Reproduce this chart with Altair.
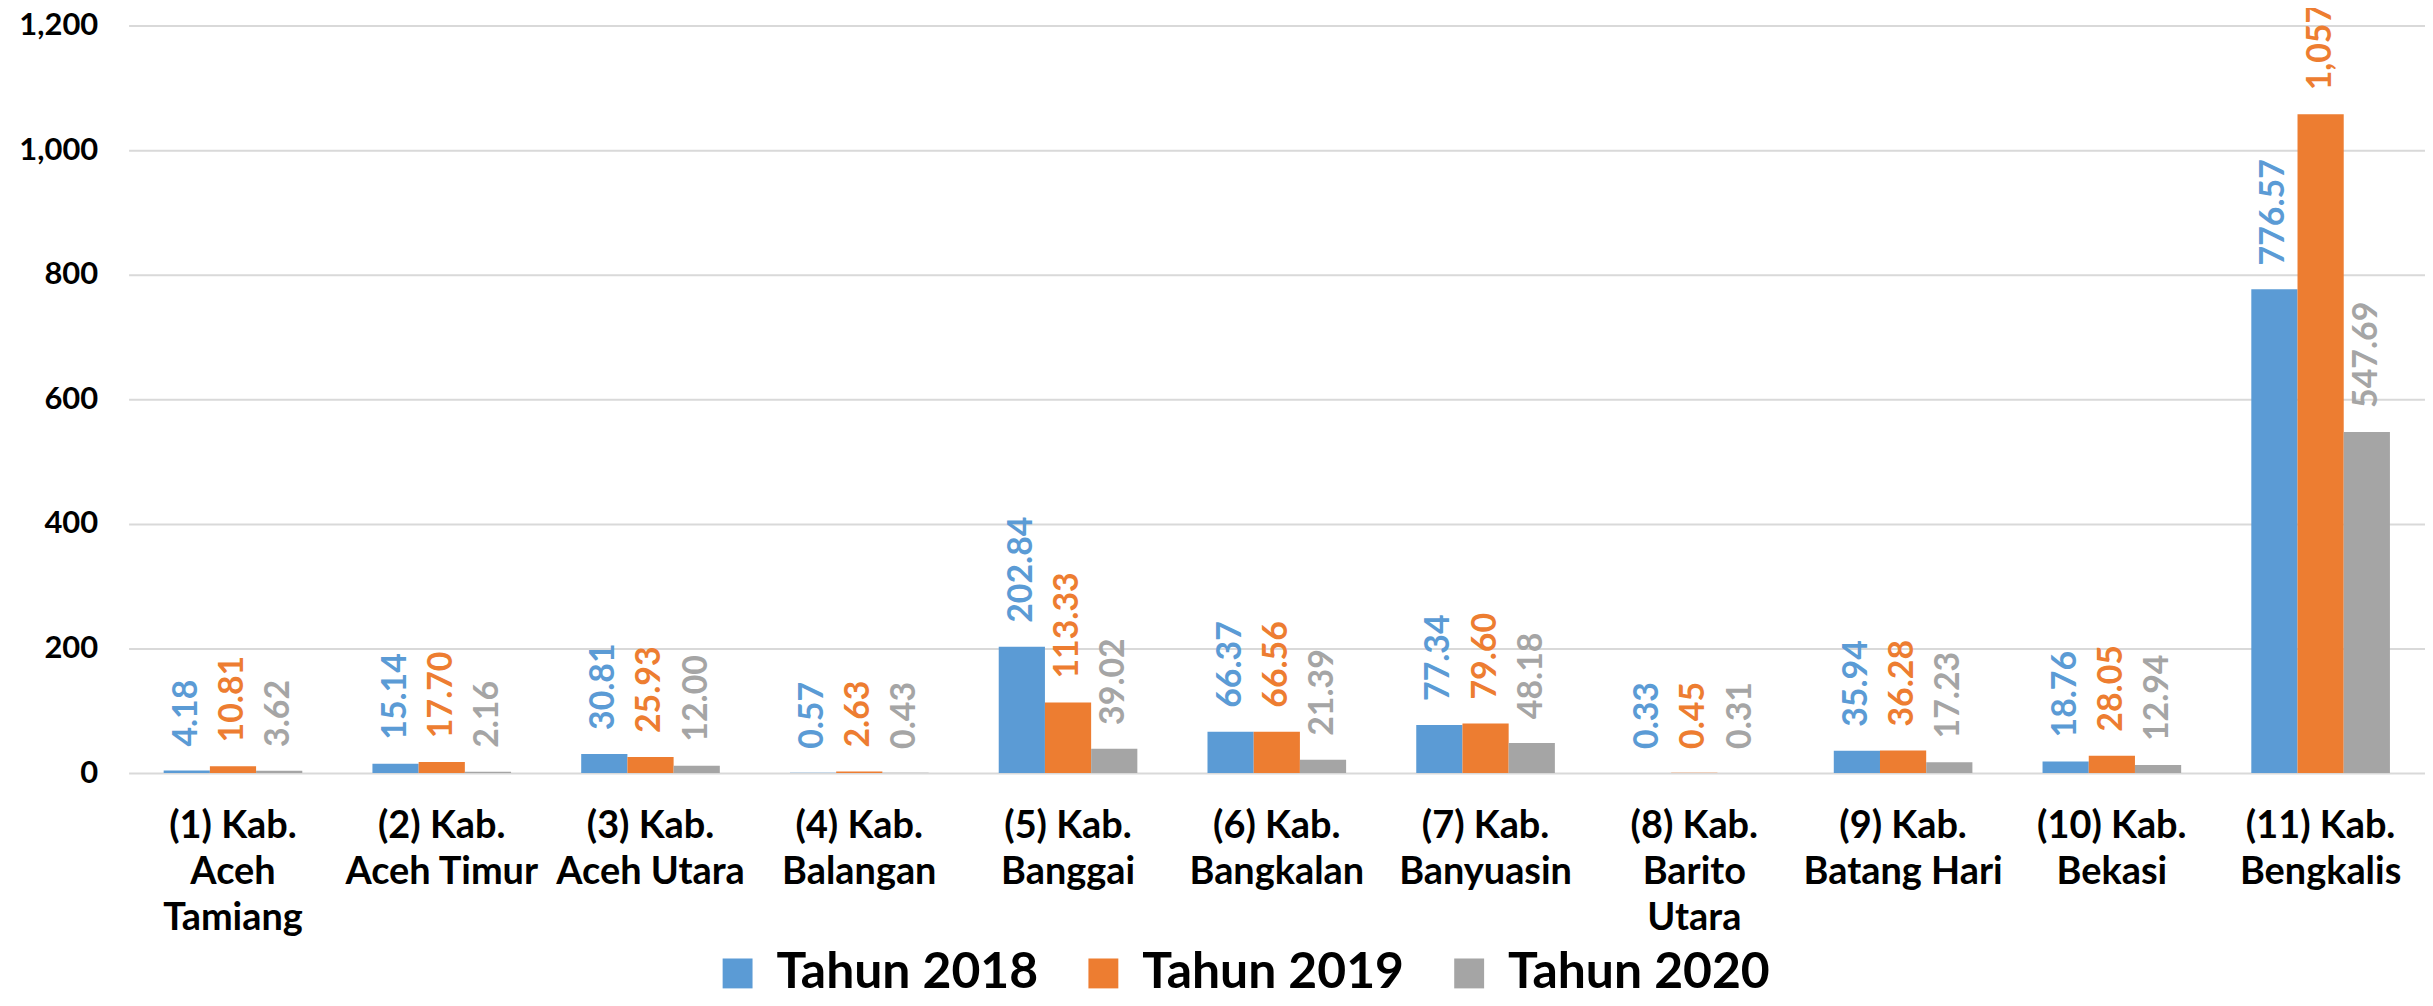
import altair as alt
import pandas as pd

categories = [
    "(1) Kab.|Aceh|Tamiang",
    "(2) Kab.|Aceh Timur",
    "(3) Kab.|Aceh Utara",
    "(4) Kab.|Balangan",
    "(5) Kab.|Banggai",
    "(6) Kab.|Bangkalan",
    "(7) Kab.|Banyuasin",
    "(8) Kab.|Barito|Utara",
    "(9) Kab.|Batang Hari",
    "(10) Kab.|Bekasi",
    "(11) Kab.|Bengkalis",
]
series = ["Tahun 2018", "Tahun 2019", "Tahun 2020"]
v2018 = [4.18, 15.14, 30.81, 0.57, 202.84, 66.37, 77.34, 0.33, 35.94, 18.76, 776.57]
v2019 = [10.81, 17.70, 25.93, 2.63, 113.33, 66.56, 79.60, 0.45, 36.28, 28.05, 1057.61]
v2020 = [3.62, 2.16, 12.00, 0.43, 39.02, 21.39, 48.18, 0.31, 17.23, 12.94, 547.69]
colors = ["#5B9BD5", "#ED7D31", "#A5A5A5"]
y_ticks = [0, 200, 400, 600, 800, 1000, 1200]

rows = []
for s, col, vals in zip(series, colors, [v2018, v2019, v2020]):
    for c, v in zip(categories, vals):
        rows.append({"kab": c, "tahun": s, "nilai": v, "warna": col})
df = pd.DataFrame(rows)

FONT = "Lato"

x_enc = alt.X(
    "kab:N",
    sort=categories,
    title=None,
    scale=alt.Scale(paddingInner=0.336, paddingOuter=0.168),
    axis=alt.Axis(
        labelExpr="split(datum.label, '|')",
        labelAngle=0,
        labelFont=FONT,
        labelFontSize=38,
        labelFontWeight="bold",
        labelColor="#000000",
        labelLineHeight=46,
        labelPadding=35,
        labelLimit=400,
        labelOverlap=False,
        ticks=False,
        domain=False,
    ),
)
y_enc = alt.Y(
    "nilai:Q",
    title=None,
    scale=alt.Scale(domain=[0, 1200], nice=False),
    axis=alt.Axis(
        values=y_ticks,
        format=",.0f",
        labelFont=FONT,
        labelFontSize=31,
        labelFontWeight="bold",
        labelColor="#000000",
        labelPadding=31,
        ticks=False,
        domain=False,
        gridColor="#D9D9D9",
        gridWidth=2,
    ),
)
xoff = alt.XOffset("tahun:N", sort=series, scale=alt.Scale(paddingInner=0, paddingOuter=0))

bars = alt.Chart(df).mark_bar().encode(
    x=x_enc,
    y=y_enc,
    xOffset=xoff,
    color=alt.Color(
        "tahun:N",
        sort=series,
        scale=alt.Scale(domain=series, range=colors),
        legend=alt.Legend(
            title=None,
            orient="none",
            legendX=586,
            legendY=926,
            direction="horizontal",
            symbolType="square",
            symbolSize=900,
            symbolStrokeWidth=0,
            labelFont=FONT,
            labelFontSize=50,
            labelFontWeight="bold",
            labelColor="#000000",
            labelOffset=14,
            labelLimit=500,
            columnPadding=40,
        ),
    ),
)

labels = alt.Chart(df).mark_text(
    angle=270, align="left", baseline="middle", dx=24,
    font=FONT, fontSize=34, fontWeight="bold",
).encode(
    x=x_enc,
    y=y_enc,
    xOffset=xoff,
    text=alt.Text("nilai:Q", format=",.2f"),
    color=alt.Color("warna:N", scale=None),
)

chart = (
    alt.layer(bars, labels)
    .properties(
        width=2304,
        height=750,
        autosize=alt.AutoSizeParams(type="none"),
        padding={"left": 121, "top": 16, "right": 0, "bottom": 223},
        background="white",
    )
    .configure_view(stroke=None)
)

chart.save("out.html", embed_options={"renderer": "svg", "actions": False})
